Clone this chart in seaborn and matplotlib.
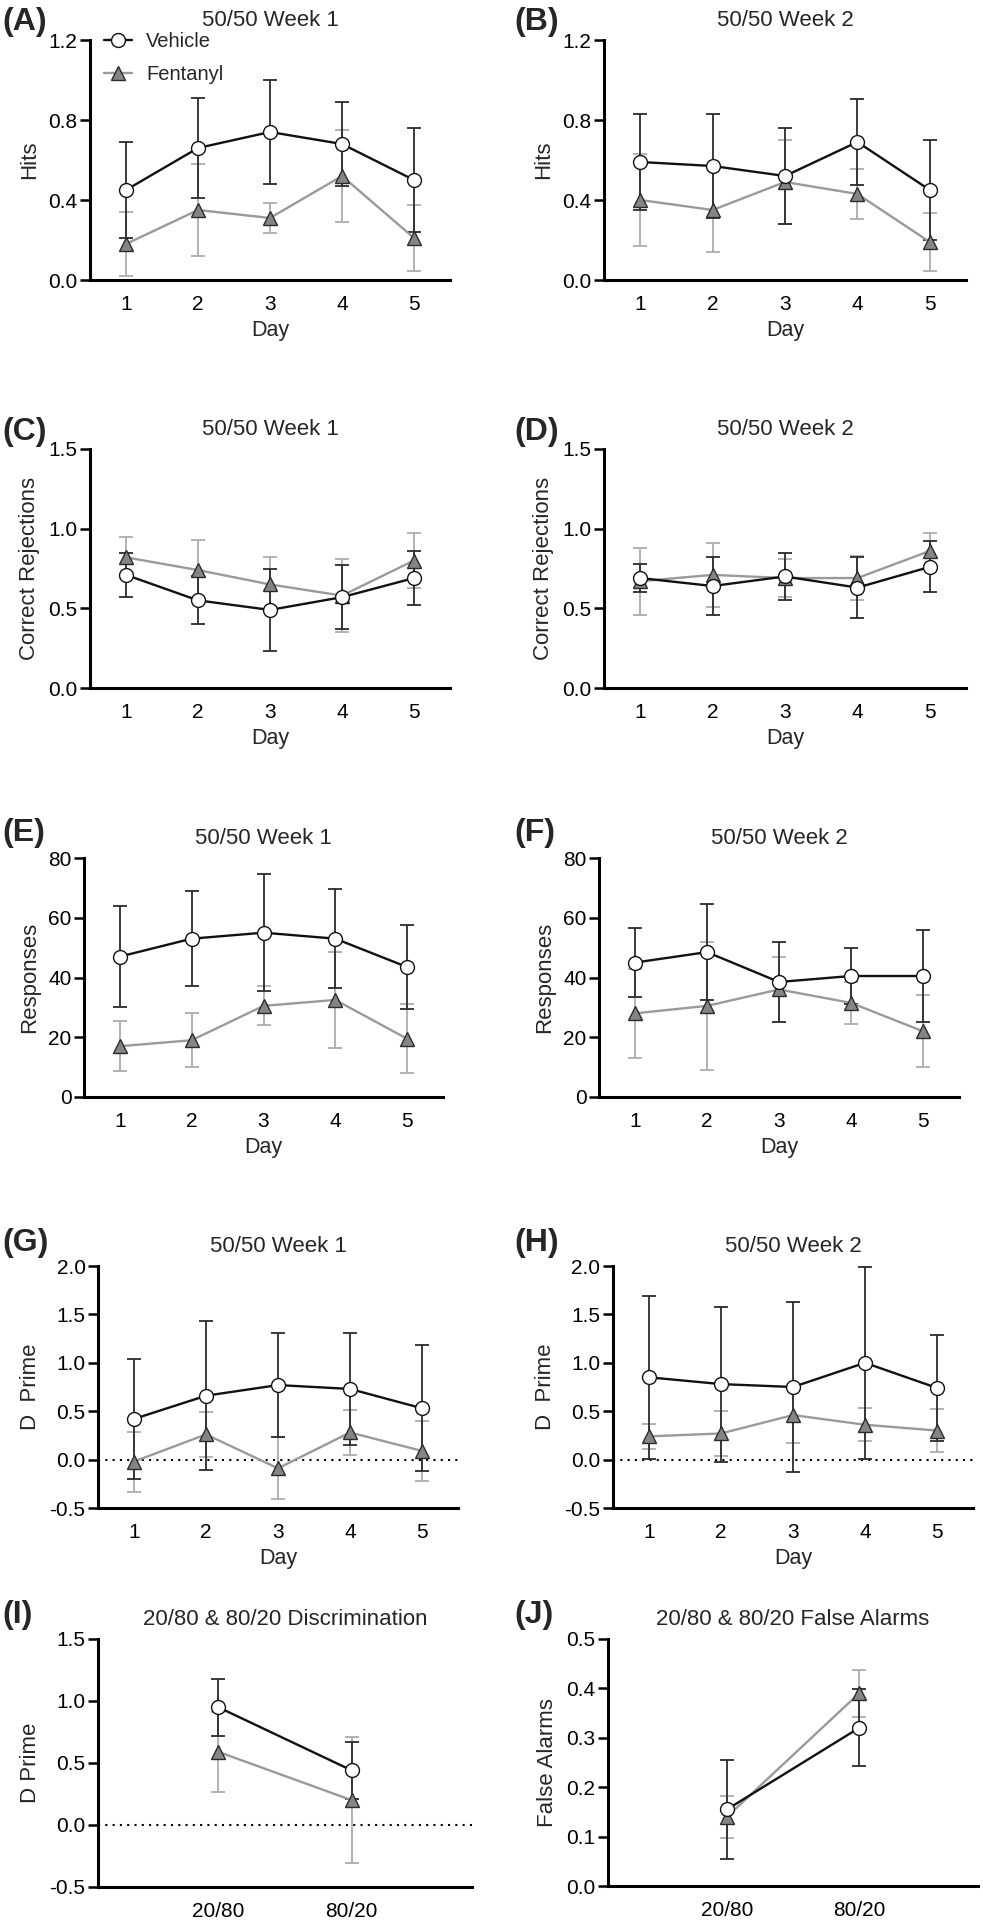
import numpy as np
import pandas as pd
import matplotlib
matplotlib.use("Agg")
import matplotlib.pyplot as plt
import seaborn as sns

days = [1, 2, 3, 4, 5]
ratios = ["20/80", "80/20"]

# (A) hits, week 1
hits_w1_veh = [0.45, 0.66, 0.74, 0.68, 0.50]
hits_w1_veh_err = [0.24, 0.25, 0.26, 0.21, 0.26]
hits_w1_fen = [0.18, 0.35, 0.31, 0.52, 0.21]
hits_w1_fen_err = [0.16, 0.23, 0.075, 0.23, 0.165]
# (B) hits, week 2
hits_w2_veh = [0.59, 0.57, 0.52, 0.69, 0.45]
hits_w2_veh_err = [0.24, 0.26, 0.24, 0.215, 0.25]
hits_w2_fen = [0.40, 0.35, 0.49, 0.43, 0.19]
hits_w2_fen_err = [0.23, 0.21, 0.21, 0.125, 0.145]
# (C) correct rejections, week 1
cr_w1_veh = [0.71, 0.55, 0.49, 0.57, 0.69]
cr_w1_veh_err = [0.14, 0.15, 0.26, 0.20, 0.17]
cr_w1_fen = [0.82, 0.74, 0.65, 0.58, 0.80]
cr_w1_fen_err = [0.13, 0.19, 0.17, 0.23, 0.17]
# (D) correct rejections, week 2
cr_w2_veh = [0.69, 0.64, 0.70, 0.63, 0.76]
cr_w2_veh_err = [0.09, 0.18, 0.145, 0.19, 0.16]
cr_w2_fen = [0.67, 0.71, 0.69, 0.69, 0.86]
cr_w2_fen_err = [0.21, 0.20, 0.12, 0.14, 0.11]
# (E) responses, week 1
resp_w1_veh = [47, 53, 55, 53, 43.5]
resp_w1_veh_err = [17, 16, 19.5, 16.5, 14]
resp_w1_fen = [17, 19, 30.5, 32.5, 19.5]
resp_w1_fen_err = [8.3, 9, 6.5, 16, 11.5]
# (F) responses, week 2
resp_w2_veh = [45, 48.5, 38.5, 40.5, 40.5]
resp_w2_veh_err = [11.5, 16, 13.5, 9.5, 15.5]
resp_w2_fen = [28, 30.5, 36, 31.5, 22]
resp_w2_fen_err = [15, 21.5, 11, 7, 12]
# (G) d prime, week 1
dp_w1_veh = [0.42, 0.66, 0.77, 0.73, 0.53]
dp_w1_veh_err = [0.62, 0.77, 0.535, 0.575, 0.65]
dp_w1_fen = [-0.02, 0.26, -0.09, 0.28, 0.09]
dp_w1_fen_err = [0.31, 0.23, 0.32, 0.23, 0.31]
# (H) d prime, week 2
dp_w2_veh = [0.85, 0.78, 0.75, 1.00, 0.74]
dp_w2_veh_err = [0.84, 0.80, 0.88, 0.99, 0.55]
dp_w2_fen = [0.24, 0.27, 0.46, 0.36, 0.30]
dp_w2_fen_err = [0.13, 0.235, 0.29, 0.17, 0.225]
# (I) discrimination
disc_veh = [0.95, 0.44]
disc_veh_err = [0.23, 0.23]
disc_fen = [0.59, 0.20]
disc_fen_err = [0.32, 0.51]
# (J) false alarms
fa_veh = [0.155, 0.32]
fa_veh_err = [0.10, 0.078]
fa_fen = [0.14, 0.39]
fa_fen_err = [0.043, 0.048]

sns.set_theme(style="ticks")
plt.rcParams["font.family"] = ["Liberation Sans", "DejaVu Sans"]

W, H = 983, 1920
fig = plt.figure(figsize=(W / 100, H / 100), dpi=100)


def rect(x0, y0, x1, y1):
    return [x0 / W, 1 - y1 / H, (x1 - x0) / W, (y1 - y0) / H]


def draw_panel(box, x, veh, veh_err, fen, fen_err, title, ylabel, letter,
               ylim, yticks, fmt, xlim, xlabel=None, xticklabels=None,
               zero_line=False, legend=False):
    ax = fig.add_axes(rect(*box))

    ax.errorbar(x, fen, yerr=fen_err, fmt="none", ecolor="#adadad",
                elinewidth=1.3, capsize=5, capthick=1.3, zorder=2)
    ax.errorbar(x, veh, yerr=veh_err, fmt="none", ecolor="#2b2b2b",
                elinewidth=1.3, capsize=5, capthick=1.3, zorder=2)
    sns.lineplot(x=x, y=fen, ax=ax, color="#9a9a9a", lw=1.7, marker="^",
                 markersize=10, markerfacecolor="#858585",
                 markeredgecolor="#2b2b2b", markeredgewidth=1.0,
                 errorbar=None, label="Fentanyl", zorder=3, legend=False)
    sns.lineplot(x=x, y=veh, ax=ax, color="#111111", lw=1.7, marker="o",
                 markersize=10, markerfacecolor="white",
                 markeredgecolor="#111111", markeredgewidth=1.0,
                 errorbar=None, label="Vehicle", zorder=4, legend=False)

    if zero_line:
        ax.axhline(0, color="black", lw=1.5, ls=(0, (1, 2.5)), zorder=1)

    ax.set_xlim(*xlim)
    ax.set_ylim(*ylim)
    ax.set_yticks(yticks)
    ax.set_yticklabels([fmt.format(v) for v in yticks], fontsize=15)
    ax.set_xticks(x)
    labels = xticklabels if xticklabels is not None else [str(v) for v in x]
    ax.set_xticklabels(labels, fontsize=15)

    sns.despine(ax=ax)
    for side in ["left", "bottom"]:
        ax.spines[side].set_linewidth(2.2)
        ax.spines[side].set_color("black")
    ax.tick_params(axis="y", length=7, width=1.8, pad=2, colors="black")
    ax.tick_params(axis="x", length=0, pad=11, colors="black")

    ax.set_ylabel(ylabel, fontsize=16, labelpad=6)
    if xlabel:
        ax.set_xlabel(xlabel, fontsize=15.5, labelpad=4)
    else:
        ax.set_xlabel("")
    ax.set_title(title, fontsize=16, pad=10)

    # panel letter
    fig.text(letter[1] / W, 1 - letter[2] / H, letter[0], fontsize=23,
             fontweight="bold", ha="left", va="center")

    if legend:
        handles, lbls = ax.get_legend_handles_labels()
        order = [lbls.index("Vehicle"), lbls.index("Fentanyl")]
        ax.legend([handles[i] for i in order], [lbls[i] for i in order],
                  loc="upper left", bbox_to_anchor=(0.0, 1.09), frameon=False,
                  fontsize=14.5, handlelength=1.4, handletextpad=0.7,
                  labelspacing=0.65, borderaxespad=0.3)
    return ax


xr = np.arange(len(ratios))
day_lim = (0.5, 5.5)
rat_lim = (-0.9, 1.9)

draw_panel((90, 40, 450, 280), days, hits_w1_veh, hits_w1_veh_err,
           hits_w1_fen, hits_w1_fen_err, "50/50 Week 1", "Hits",
           ("(A)", 2, 22), (0, 1.2), [0, 0.4, 0.8, 1.2], "{:.1f}", day_lim,
           xlabel="Day", legend=True)
draw_panel((604, 40, 966, 280), days, hits_w2_veh, hits_w2_veh_err,
           hits_w2_fen, hits_w2_fen_err, "50/50 Week 2", "Hits",
           ("(B)", 514, 22), (0, 1.2), [0, 0.4, 0.8, 1.2], "{:.1f}", day_lim,
           xlabel="Day")
draw_panel((90, 449, 450, 688), days, cr_w1_veh, cr_w1_veh_err,
           cr_w1_fen, cr_w1_fen_err, "50/50 Week 1", "Correct Rejections",
           ("(C)", 2, 432), (0, 1.5), [0, 0.5, 1.0, 1.5], "{:.1f}", day_lim,
           xlabel="Day")
draw_panel((604, 449, 966, 688), days, cr_w2_veh, cr_w2_veh_err,
           cr_w2_fen, cr_w2_fen_err, "50/50 Week 2", "Correct Rejections",
           ("(D)", 514, 432), (0, 1.5), [0, 0.5, 1.0, 1.5], "{:.1f}", day_lim,
           xlabel="Day")
draw_panel((84, 858, 443, 1097), days, resp_w1_veh, resp_w1_veh_err,
           resp_w1_fen, resp_w1_fen_err, "50/50 Week 1", "Responses",
           ("(E)", 2, 833), (0, 80), [0, 20, 40, 60, 80], "{:.0f}", day_lim,
           xlabel="Day")
draw_panel((599, 858, 959, 1097), days, resp_w2_veh, resp_w2_veh_err,
           resp_w2_fen, resp_w2_fen_err, "50/50 Week 2", "Responses",
           ("(F)", 514, 833), (0, 80), [0, 20, 40, 60, 80], "{:.0f}", day_lim,
           xlabel="Day")
draw_panel((98, 1266, 458, 1508), days, dp_w1_veh, dp_w1_veh_err,
           dp_w1_fen, dp_w1_fen_err, "50/50 Week 1", "D  Prime",
           ("(G)", 2, 1243), (-0.5, 2.0), [-0.5, 0, 0.5, 1.0, 1.5, 2.0],
           "{:.1f}", day_lim, xlabel="Day", zero_line=True)
draw_panel((613, 1266, 973, 1508), days, dp_w2_veh, dp_w2_veh_err,
           dp_w2_fen, dp_w2_fen_err, "50/50 Week 2", "D  Prime",
           ("(H)", 514, 1243), (-0.5, 2.0), [-0.5, 0, 0.5, 1.0, 1.5, 2.0],
           "{:.1f}", day_lim, xlabel="Day", zero_line=True)
draw_panel((98, 1639, 472, 1887), xr, disc_veh, disc_veh_err,
           disc_fen, disc_fen_err, "20/80 & 80/20 Discrimination", "D Prime",
           ("(I)", 2, 1615), (-0.5, 1.5), [-0.5, 0, 0.5, 1.0, 1.5], "{:.1f}",
           rat_lim, xticklabels=ratios, zero_line=True)
draw_panel((608, 1639, 978, 1886), xr, fa_veh, fa_veh_err,
           fa_fen, fa_fen_err, "20/80 & 80/20 False Alarms", "False Alarms",
           ("(J)", 514, 1615), (0, 0.5), [0, 0.1, 0.2, 0.3, 0.4, 0.5], "{:.1f}",
           rat_lim, xticklabels=ratios)

fig.savefig("out.png", dpi=100, facecolor="white")
